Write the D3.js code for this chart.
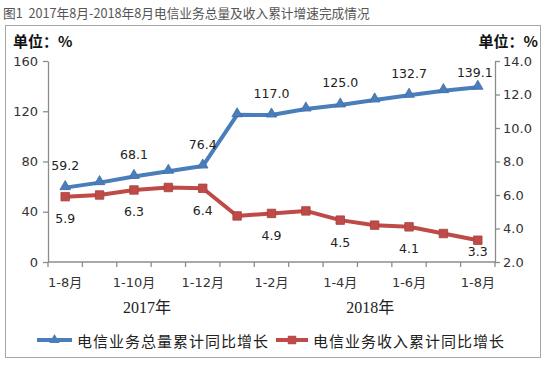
<!DOCTYPE html>
<html><head><meta charset="utf-8">
<script src="https://cdn.jsdelivr.net/npm/d3@7"></script>
<style>body{margin:0;background:#fff}</style>
</head><body><svg id="c" width="547" height="365"></svg>
<script>
// ---- data ----
const months = ["1-8月","1-9月","1-10月","1-11月","1-12月","1月","1-2月","1-3月","1-4月","1-5月","1-6月","1-7月","1-8月"];
const shownTickIdx = [0,2,4,6,8,10,12];
const years = ["2017年","2018年"];
const volumeGrowth = [59.2, 63.2, 68.1, 72.2, 76.4, 117.2, 117.0, 121.8, 125.0, 129.0, 132.7, 136.4, 139.1];
const revenueGrowth = [5.9, 6.0, 6.3, 6.45, 6.4, 4.75, 4.9, 5.05, 4.5, 4.2, 4.1, 3.7, 3.3];
const labelIdx = [0,2,4,6,8,10,12];
const leftTicks = [0,40,80,120,160];
const rightTicks = [2,4,6,8,10,12,14];
const seriesNames = ["电信业务总量累计同比增长","电信业务收入累计同比增长"];
const title = "图1  2017年8月-2018年8月电信业务总量及收入累计增速完成情况";
const unitText = "单位：%";

// ---- layout ----
const svg = d3.select("#c");
const L = 48, R = 495, T = 61, B = 262;
const blue = "#4A7EBB", red = "#BE4B48", axisCol = "#8c8c8c", txt = "#333";
const numFont = "'DejaVu Sans','Noto Sans CJK SC',sans-serif";

svg.append("rect").attr("width",547).attr("height",365).attr("fill","#fff");
svg.append("text").attr("x",3).attr("y",12).attr("dominant-baseline","central")
  .attr("font-family","'Noto Sans CJK SC',sans-serif").attr("font-size",12.7).attr("fill","#555")
  .style("white-space","pre").text(title);
svg.append("rect").attr("x",5.5).attr("y",25.5).attr("width",535).attr("height",332)
  .attr("fill","none").attr("stroke","#a6a6a6");

svg.append("text").attr("x",13).attr("y",40).attr("dominant-baseline","central")
  .attr("font-family","'Noto Sans CJK SC',sans-serif").attr("font-weight","bold").attr("font-size",15)
  .attr("fill","#111").text(unitText);
svg.append("text").attr("x",538).attr("y",40).attr("dominant-baseline","central").attr("text-anchor","end")
  .attr("font-family","'Noto Sans CJK SC',sans-serif").attr("font-weight","bold").attr("font-size",15)
  .attr("fill","#111").text(unitText);

const x = d3.scaleBand().domain(d3.range(months.length)).range([L,R]).paddingInner(0).paddingOuter(0);
const yL = d3.scaleLinear().domain([0,160]).range([B,T]);
const yR = d3.scaleLinear().domain([2,14]).range([B,T]);
const cx = i => x(i) + x.bandwidth()/2;

function styleAxis(g){
  g.select(".domain").attr("stroke",axisCol).attr("stroke-width",1.3);
  g.selectAll(".tick line").attr("stroke",axisCol).attr("stroke-width",1.3);
  g.selectAll(".tick text").attr("fill",txt).attr("font-family",numFont).attr("font-size",13);
}
svg.append("g").attr("transform",`translate(${L},0)`)
  .call(d3.axisLeft(yL).tickValues(leftTicks).tickSize(5).tickSizeOuter(0).tickPadding(5).tickFormat(d3.format("d")))
  .call(styleAxis);
svg.append("g").attr("transform",`translate(${R},0)`)
  .call(d3.axisRight(yR).tickValues(rightTicks).tickSize(5).tickSizeOuter(0).tickPadding(3).tickFormat(d3.format(".1f")))
  .call(styleAxis);

// x axis: ticks at category boundaries
const xg = svg.append("g").attr("transform",`translate(0,${B})`);
xg.append("line").attr("x1",L).attr("x2",R).attr("stroke",axisCol).attr("stroke-width",1.3);
const bounds = d3.range(months.length+1).map(i => i<months.length ? x(i) : R);
xg.selectAll("line.t").data(bounds).join("line").attr("class","t")
  .attr("x1",d=>d).attr("x2",d=>d).attr("y1",0).attr("y2",5).attr("stroke",axisCol).attr("stroke-width",1.3);
xg.selectAll("text.m").data(shownTickIdx).join("text").attr("class","m")
  .attr("x",i=>cx(i)).attr("y",20).attr("text-anchor","middle").attr("dominant-baseline","central")
  .attr("font-family",numFont).attr("font-size",13).attr("fill",txt).text(i=>months[i]);
const yearPos = [x(2)+x.bandwidth()*0.88, x(9)+x.bandwidth()*0.37];
svg.selectAll("text.yr").data(years).join("text").attr("class","yr")
  .attr("x",(d,i)=>yearPos[i]).attr("y",307).attr("text-anchor","middle").attr("dominant-baseline","central")
  .attr("font-family","'Liberation Serif','Noto Sans CJK SC',serif").attr("font-size",16).attr("fill","#222").text(d=>d);

// lines
const lineL = d3.line().x((d,i)=>cx(i)).y(d=>yL(d));
const lineR = d3.line().x((d,i)=>cx(i)).y(d=>yR(d));
svg.append("path").datum(revenueGrowth).attr("d",lineR).attr("fill","none").attr("stroke",red).attr("stroke-width",4).attr("stroke-linejoin","round");
svg.append("path").datum(volumeGrowth).attr("d",lineL).attr("fill","none").attr("stroke",blue).attr("stroke-width",4).attr("stroke-linejoin","round");
const tri = d3.symbol().type(d3.symbolTriangle).size(48);
const sq = d3.symbol().type(d3.symbolSquare).size(72);
svg.selectAll("path.sq").data(revenueGrowth).join("path").attr("class","sq")
  .attr("d",sq).attr("transform",(d,i)=>`translate(${cx(i)},${yR(d)})`).attr("fill",red).attr("stroke","#a8403d").attr("stroke-width",0.8);
svg.selectAll("path.tr").data(volumeGrowth).join("path").attr("class","tr")
  .attr("d",tri).attr("transform",(d,i)=>`translate(${cx(i)},${yL(d)-1})`).attr("fill",blue).attr("stroke","#3f6fa8").attr("stroke-width",0.8);

// data labels
svg.selectAll("text.lv").data(labelIdx).join("text").attr("class","lv")
  .attr("x",i=>cx(i) - (i===labelIdx[labelIdx.length-1] ? 3 : 0))
  .attr("y",i=>Math.max(yL(volumeGrowth[i])-22, 72)).attr("text-anchor","middle").attr("dominant-baseline","central")
  .attr("font-family",numFont).attr("font-size",12.5).attr("fill","#222").text(i=>volumeGrowth[i].toFixed(1));
svg.selectAll("text.lr").data(labelIdx).join("text").attr("class","lr")
  .attr("x",i=>cx(i)).attr("y",i=>Math.min(yR(revenueGrowth[i])+22, B-11)).attr("text-anchor","middle").attr("dominant-baseline","central")
  .attr("font-family",numFont).attr("font-size",12.5).attr("fill","#222").text(i=>revenueGrowth[i].toFixed(1));

// legend
const leg = [{x1:37,x2:72,col:blue,sym:tri,tx:77,name:seriesNames[0]},{x1:276,x2:308,col:red,sym:sq,tx:313,name:seriesNames[1]}];
const lg = svg.selectAll("g.leg").data(leg).join("g").attr("class","leg");
lg.append("line").attr("x1",d=>d.x1).attr("x2",d=>d.x2).attr("y1",340).attr("y2",340).attr("stroke",d=>d.col).attr("stroke-width",4);
lg.append("path").attr("d",d=>d.sym()).attr("transform",d=>`translate(${(d.x1+d.x2)/2},340)`).attr("fill",d=>d.col);
lg.append("text").attr("x",d=>d.tx).attr("y",340).attr("dominant-baseline","central")
  .attr("font-family","'Noto Sans CJK SC',sans-serif").attr("font-size",15).attr("letter-spacing",1)
  .attr("fill","#222").text(d=>d.name);
</script></body></html>
